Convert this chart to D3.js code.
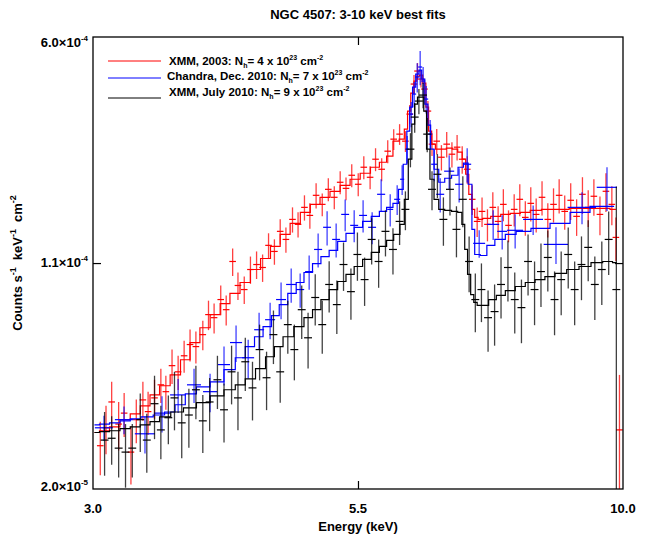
<!DOCTYPE html>
<html>
<head>
<meta charset="utf-8">
<script src="https://cdn.jsdelivr.net/npm/d3@7"></script>
<style>
  body { margin: 0; background: #fff; }
  text { font-family: "Liberation Sans", Arial, Helvetica, sans-serif; font-weight: bold; fill: #000; }
</style>
</head>
<body>
<svg id="chart"></svg>
<script>
// values are in units of 1e-5 counts s^-1 keV^-1 cm^-2, energies in keV
const UNIT = 1e-5;

const xDomain = [3, 10];
const yDomain = [2e-5, 6e-4];
const xTicks = [3.0, 5.477, 10.0];
const xTickLabels = ['3.0', '5.5', '10.0'];
const yTicks = [2.0e-5, 1.095e-4, 6.0e-4];
const yTickLabels = [['2.0', '-5'], ['1.1', '-4'], ['6.0', '-4']];

const seriesNames = ['XMM, 2003', 'Chandra, Dec. 2010', 'XMM, July 2010'];
const seriesNh = [4, 7, 9];
const seriesColors = ['#ff0000', '#0000ff', '#000000'];

// XMM 2003 - model (step) and data
const redModelE = [3.01, 3.08, 3.15, 3.23, 3.30, 3.38, 3.45, 3.53, 3.62, 3.70, 3.78, 3.87, 3.96, 4.05, 4.14, 4.24, 4.34, 4.44, 4.54, 4.64,
  4.75, 4.86, 4.97, 5.08, 5.20, 5.32, 5.44, 5.57, 5.70, 5.80, 5.89, 5.97, 6.06, 6.11, 6.15, 6.20, 6.24, 6.28, 6.32, 6.37,
  6.41, 6.45, 6.50, 6.56, 6.65, 6.74, 6.83, 6.91, 6.97, 7.02, 7.07, 7.12, 7.16, 7.23, 7.31, 7.50, 7.65, 7.83, 8.01, 8.19,
  8.43, 8.71, 8.99, 9.28, 9.58, 9.84];
const redModelV = [3.06, 3.10, 3.19, 3.37, 3.52, 3.74, 4.06, 4.35, 4.72, 5.29, 6.02, 6.73, 7.43, 8.07, 8.71, 9.46, 10.43, 11.33, 12.41, 13.58,
  14.76, 16.03, 17.03, 17.96, 18.79, 19.66, 20.57, 21.52, 22.52, 23.38, 24.47, 27.40, 27.82, 30.00, 34.36, 39.35, 43.08, 44.73, 45.07, 42.43,
  35.42, 29.55, 26.79, 25.80, 25.80, 26.00, 25.80, 25.22, 23.92, 21.36, 18.37, 16.40, 15.44, 15.21, 15.32, 15.56, 15.79, 15.91, 16.03, 16.28,
  16.40, 16.40, 16.52, 16.52, 16.52, 16.40];
const redDataE = [3.05, 3.09, 3.13, 3.18, 3.22, 3.27, 3.31, 3.36, 3.40, 3.45, 3.50, 3.54, 3.59, 3.64, 3.69, 3.74, 3.79, 3.85, 3.90, 3.95,
  4.01, 4.06, 4.12, 4.17, 4.23, 4.29, 4.35, 4.41, 4.47, 4.53, 4.59, 4.65, 4.72, 4.78, 4.85, 4.91, 4.98, 5.05, 5.12, 5.19,
  5.26, 5.33, 5.40, 5.48, 5.55, 5.63, 5.70, 5.78, 5.86, 5.94, 6.02, 6.10, 6.16, 6.22, 6.27, 6.32, 6.37, 6.42, 6.48, 6.55,
  6.62, 6.70, 6.78, 6.86, 6.94, 7.02, 7.10, 7.18, 7.26, 7.35, 7.44, 7.53, 7.62, 7.71, 7.81, 7.91, 8.01, 8.11, 8.21, 8.32,
  8.43, 8.54, 8.65, 8.76, 8.88, 9.00, 9.12, 9.24, 9.36, 9.49, 9.62, 9.75, 9.84, 9.92];
const redDataV = [2.77, 3.17, 3.85, 3.26, 3.54, 2.64, 3.37, 3.91, 3.58, 3.97, 4.38, 4.16, 5.06, 4.83, 5.45, 5.93, 5.84, 6.39, 7.43, 7.26,
  8.32, 7.71, 11.08, 9.25, 8.97, 10.43, 10.83, 10.59, 12.51, 11.95, 13.90, 13.08, 15.21, 14.65, 16.65, 15.67, 18.23, 17.03, 19.07, 17.96,
  20.11, 19.21, 21.20, 19.81, 22.52, 20.88, 23.92, 22.18, 25.41, 27.82, 28.89, 27.40, 33.59, 42.11, 46.44, 43.73, 40.55, 34.36, 26.79, 27.40,
  24.28, 26.79, 24.84, 26.19, 23.92, 22.18, 17.69, 14.98, 16.15, 14.65, 16.65, 14.98, 17.03, 14.54, 16.40, 17.69, 15.44, 17.16, 15.79, 17.96,
  15.21, 17.03, 18.23, 16.15, 17.56, 15.56, 18.37, 16.65, 18.10, 15.79, 18.79, 17.03, 13.28, 3.12];
const redDataErr = [0.55, 0.57, 0.63, 0.59, 0.58, 0.57, 0.55, 0.57, 0.58, 0.58, 0.56, 0.53, 0.65, 0.62, 0.65, 0.71, 0.70, 0.71, 0.82, 0.81,
  0.92, 0.86, 1.14, 0.95, 0.92, 1.07, 1.12, 1.09, 1.19, 1.14, 1.32, 1.24, 1.44, 1.39, 1.58, 1.49, 1.73, 1.46, 1.64, 1.54,
  1.73, 1.65, 1.82, 1.70, 1.94, 1.80, 2.06, 1.91, 2.19, 2.17, 2.25, 2.14, 2.35, 2.95, 2.88, 2.71, 2.84, 2.68, 2.30, 2.60,
  2.31, 2.55, 2.36, 2.49, 2.46, 2.28, 1.96, 1.66, 1.79, 1.76, 2.00, 1.80, 2.04, 1.74, 1.97, 2.12, 1.98, 2.20, 2.02, 2.30,
  1.95, 2.18, 2.33, 2.07, 2.41, 2.13, 2.52, 2.28, 2.48, 2.29, 2.72, 2.47, 2.16, 1.60];
const redBinFrac = 0.0075;

// Chandra Dec. 2010
const blueModelE = [3.01, 3.08, 3.15, 3.23, 3.30, 3.39, 3.49, 3.57, 3.66, 3.74, 3.85, 3.98, 4.10, 4.19, 4.29, 4.37, 4.46, 4.54, 4.62, 4.72,
  4.80, 4.89, 4.99, 5.08, 5.18, 5.28, 5.38, 5.48, 5.59, 5.70, 5.80, 5.89, 5.97, 6.04, 6.10, 6.14, 6.18, 6.22, 6.27, 6.31,
  6.35, 6.40, 6.44, 6.48, 6.54, 6.62, 6.72, 6.83, 6.92, 7.00, 7.07, 7.12, 7.16, 7.30, 7.38, 7.57, 7.74, 7.95, 8.28, 8.67,
  9.07, 9.49, 9.80];
const blueModelV = [3.24, 3.26, 3.29, 3.34, 3.39, 3.44, 3.49, 3.57, 3.77, 4.09, 4.31, 4.48, 4.91, 5.37, 5.84, 6.29, 6.79, 7.37, 8.01, 8.71,
  9.46, 10.20, 10.91, 11.50, 12.04, 12.89, 13.69, 14.33, 14.98, 15.56, 16.15, 16.65, 17.16, 19.07, 23.03, 29.55, 35.42, 41.16, 45.41, 46.79,
  43.73, 36.22, 30.92, 25.80, 22.18, 20.11, 20.73, 21.20, 22.52, 23.21, 19.81, 14.11, 11.68, 11.59, 12.51, 13.08, 13.58, 13.90, 14.22, 14.76,
  16.03, 16.78, 16.78];
const blueDataE = [3.076, 3.219, 3.376, 3.509, 3.640, 3.774, 3.914, 4.040, 4.152, 4.268, 4.375, 4.486, 4.599, 4.706, 4.803, 4.902,
  5.003, 5.106, 5.212, 5.320, 5.430, 5.541, 5.656, 5.773, 5.893, 5.987, 6.055, 6.125, 6.181, 6.223, 6.266, 6.308,
  6.351, 6.395, 6.453, 6.512, 6.602, 6.738, 6.892, 7.019, 7.213, 7.446, 7.600, 7.827, 8.154, 8.588, 9.111, 9.643];
const blueDataHalfWidth = [0.063, 0.066, 0.077, 0.064, 0.066, 0.060, 0.062, 0.055, 0.057, 0.058, 0.050, 0.051, 0.052, 0.054, 0.044, 0.045,
  0.046, 0.046, 0.047, 0.048, 0.049, 0.050, 0.051, 0.053, 0.040, 0.041, 0.028, 0.028, 0.028, 0.028, 0.029, 0.029,
  0.029, 0.029, 0.029, 0.044, 0.060, 0.077, 0.063, 0.064, 0.098, 0.102, 0.086, 0.142, 0.185, 0.237, 0.294, 0.222];
const blueDataV = [3.17, 3.37, 3.03, 3.54, 4.06, 4.38, 4.16, 5.10, 6.02, 5.37, 6.63, 7.15, 8.32, 9.32, 8.97, 10.27,
  12.13, 14.33, 13.08, 15.79, 14.54, 15.67, 14.33, 18.37, 16.40, 17.69, 20.57, 25.80, 33.59, 39.05, 44.40, 47.87,
  43.08, 37.61, 28.89, 23.03, 18.37, 21.86, 19.81, 23.03, 12.70, 14.65, 13.90, 14.01, 15.21, 12.60, 16.65, 19.36];
const blueDataErr = [0.30, 0.35, 0.42, 0.48, 0.52, 0.56, 0.60, 0.74, 0.82, 0.78, 0.91, 0.98, 1.14, 1.19, 1.15, 1.31,
  1.55, 1.83, 1.67, 1.89, 1.74, 1.88, 1.72, 2.20, 1.97, 1.96, 2.28, 2.66, 3.19, 3.71, 4.85, 6.13,
  4.78, 3.87, 3.21, 2.76, 2.35, 2.80, 2.54, 2.95, 1.31, 1.63, 1.78, 1.79, 1.69, 1.73, 2.00, 3.16];

// XMM July 2010
const blackModelE = [3.01, 3.08, 3.15, 3.23, 3.30, 3.38, 3.45, 3.53, 3.63, 3.74, 3.85, 3.98, 4.10, 4.19, 4.29, 4.39, 4.49, 4.57, 4.67, 4.80,
  4.89, 4.99, 5.08, 5.18, 5.28, 5.38, 5.48, 5.59, 5.70, 5.80, 5.89, 5.99, 6.06, 6.11, 6.17, 6.21, 6.25, 6.29, 6.34, 6.38,
  6.42, 6.48, 6.54, 6.62, 6.72, 6.83, 6.91, 6.96, 7.00, 7.05, 7.10, 7.15, 7.21, 7.31, 7.43, 7.57, 7.74, 7.92, 8.10, 8.28,
  8.47, 8.67, 8.93, 9.17, 9.43, 9.67, 9.86];
const blackModelV = [3.06, 3.08, 3.10, 3.15, 3.19, 3.24, 3.32, 3.44, 3.57, 3.68, 3.83, 4.03, 4.22, 4.38, 4.58, 4.95, 5.41, 5.84, 6.29, 6.79,
  7.26, 7.71, 8.32, 8.97, 9.53, 10.05, 10.67, 11.25, 11.86, 12.41, 12.99, 13.58, 14.65, 17.69, 23.92, 31.15, 36.22, 38.18, 38.18, 34.36,
  25.80, 20.57, 17.69, 16.40, 16.28, 16.15, 16.03, 14.65, 12.13, 10.05, 8.64, 8.14, 7.96, 7.96, 8.32, 8.58, 8.90, 9.18, 9.46, 9.67,
  9.89, 10.13, 10.43, 10.67, 10.99, 11.08, 10.99];
const blackDataE = [3.08, 3.13, 3.18, 3.23, 3.28, 3.34, 3.39, 3.45, 3.50, 3.56, 3.61, 3.67, 3.73, 3.79, 3.85, 3.91, 3.98, 4.04, 4.11, 4.17,
  4.24, 4.31, 4.38, 4.45, 4.52, 4.59, 4.67, 4.74, 4.82, 4.89, 4.97, 5.05, 5.13, 5.22, 5.30, 5.39, 5.47, 5.56, 5.65, 5.74,
  5.83, 5.93, 6.02, 6.10, 6.17, 6.23, 6.29, 6.35, 6.41, 6.48, 6.56, 6.65, 6.75, 6.85, 6.95, 7.05, 7.15, 7.25, 7.36, 7.47,
  7.58, 7.70, 7.82, 7.94, 8.06, 8.18, 8.30, 8.43, 8.56, 8.69, 8.83, 8.96, 9.10, 9.24, 9.38, 9.53, 9.68, 9.85];
const blackDataV = [2.89, 2.93, 2.72, 2.64, 2.72, 3.37, 2.89, 3.80, 3.12, 3.42, 3.97, 3.29, 3.49, 4.22, 3.34, 3.85, 4.55, 3.63, 4.83, 3.97,
  5.21, 4.28, 5.71, 4.62, 6.39, 4.83, 6.89, 5.71, 7.71, 6.24, 8.45, 6.89, 9.32, 8.01, 10.83, 8.83, 11.68, 9.67, 13.08, 11.08,
  13.90, 12.13, 14.98, 16.40, 25.80, 32.84, 37.05, 38.76, 28.89, 19.07, 21.36, 15.21, 19.07, 14.11, 17.69, 11.08, 8.32, 8.97, 7.26, 7.60,
  9.32, 10.59, 8.32, 7.83, 11.08, 8.97, 10.27, 11.42, 8.32, 9.67, 11.68, 8.97, 10.83, 12.32, 9.32, 10.43, 13.08, 8.97];
const blackDataErr = [0.68, 0.53, 0.54, 0.62, 0.54, 0.73, 0.63, 0.89, 0.62, 0.62, 0.86, 0.77, 0.76, 0.84, 0.72, 0.76, 0.90, 0.79, 1.05, 0.86,
  1.03, 0.93, 1.18, 1.00, 1.27, 1.00, 1.36, 1.18, 1.53, 1.29, 1.61, 1.36, 1.77, 1.59, 1.95, 1.68, 2.10, 1.74, 2.25, 1.99,
  2.39, 2.09, 2.44, 2.38, 3.30, 3.65, 3.52, 3.68, 3.70, 2.77, 3.50, 2.74, 3.40, 2.68, 3.36, 2.29, 1.81, 1.95, 1.64, 1.72,
  2.11, 2.39, 1.88, 1.84, 2.50, 2.11, 2.41, 2.58, 1.96, 2.27, 2.64, 2.11, 2.55, 2.78, 2.19, 2.45, 3.07, 10.5];
const blackBinFrac = 0.009;

const width = 647, height = 538;
const margin = {top: 37, right: 24, bottom: 49, left: 93};
const innerW = width - margin.left - margin.right;
const innerH = height - margin.top - margin.bottom;

const svg = d3.select('#chart').attr('width', width).attr('height', height);

const x = d3.scaleLog().domain(xDomain).range([0, innerW]);
const y = d3.scaleLog().domain(yDomain).range([innerH, 0]);

const g = svg.append('g').attr('transform', `translate(${margin.left},${margin.top})`);

g.append('defs').append('clipPath').attr('id', 'plot-clip')
  .append('rect').attr('width', innerW).attr('height', innerH);

const plot = g.append('g').attr('clip-path', 'url(#plot-clip)');

// build the three series
const series = [
  {model: redModelE.map((e, i) => [e, redModelV[i] * UNIT]),
   data: redDataE.map((e, i) => ({e, hw: e * redBinFrac, v: redDataV[i] * UNIT, err: redDataErr[i] * UNIT}))},
  {model: blueModelE.map((e, i) => [e, blueModelV[i] * UNIT]),
   data: blueDataE.map((e, i) => ({e, hw: blueDataHalfWidth[i], v: blueDataV[i] * UNIT, err: blueDataErr[i] * UNIT}))},
  {model: blackModelE.map((e, i) => [e, blackModelV[i] * UNIT]),
   data: blackDataE.map((e, i) => ({e, hw: e * blackBinFrac, v: blackDataV[i] * UNIT, err: blackDataErr[i] * UNIT}))}
];

const line = d3.line()
  .x(d => x(d[0]))
  .y(d => y(d[1]))
  .curve(d3.curveStep);

const floorV = yDomain[0] * 0.5;

series.forEach((s, k) => {
  const col = seriesColors[k];
  const grp = plot.append('g').attr('class', 'series-' + k);

  // vertical error bars
  grp.selectAll('line.ebar')
    .data(s.data)
    .join('line')
    .attr('class', 'ebar')
    .attr('x1', d => x(d.e))
    .attr('x2', d => x(d.e))
    .attr('y1', d => y(Math.max(d.v - d.err, floorV)))
    .attr('y2', d => y(d.v + d.err))
    .attr('stroke', col)
    .attr('stroke-width', 1.3)
    .attr('stroke-opacity', 0.75);

  // horizontal bin widths
  grp.selectAll('line.hbar')
    .data(s.data)
    .join('line')
    .attr('class', 'hbar')
    .attr('x1', d => x(d.e - d.hw))
    .attr('x2', d => x(d.e + d.hw))
    .attr('y1', d => y(d.v))
    .attr('y2', d => y(d.v))
    .attr('stroke', col)
    .attr('stroke-width', 1.2);

  // best-fit model
  grp.append('path')
    .datum(s.model)
    .attr('fill', 'none')
    .attr('stroke', col)
    .attr('stroke-width', 1.2)
    .attr('d', line);
});

// frame
g.append('rect')
  .attr('width', innerW)
  .attr('height', innerH)
  .attr('fill', 'none')
  .attr('stroke', '#000')
  .attr('stroke-width', 1.3);

// inward ticks on all four sides
const tickLen = 8;
const midX = [xTicks[1]];
const midY = [yTicks[1]];
g.append('g').attr('transform', `translate(0,${innerH})`)
  .call(d3.axisBottom(x).tickValues(midX).tickSize(-tickLen).tickFormat(''))
  .call(a => a.select('.domain').remove());
g.append('g')
  .call(d3.axisTop(x).tickValues(midX).tickSize(-tickLen).tickFormat(''))
  .call(a => a.select('.domain').remove());
g.append('g')
  .call(d3.axisLeft(y).tickValues(midY).tickSize(-tickLen).tickFormat(''))
  .call(a => a.select('.domain').remove());
g.append('g').attr('transform', `translate(${innerW},0)`)
  .call(d3.axisRight(y).tickValues(midY).tickSize(-tickLen).tickFormat(''))
  .call(a => a.select('.domain').remove());
g.selectAll('.tick line').attr('stroke', '#000').attr('stroke-width', 1.2);

// x tick labels
g.selectAll('text.xlab')
  .data(xTicks)
  .join('text')
  .attr('class', 'xlab')
  .attr('x', d => x(d))
  .attr('y', innerH + 24)
  .attr('text-anchor', 'middle')
  .attr('font-size', 13)
  .text((d, i) => xTickLabels[i]);

// y tick labels with exponent
yTicks.forEach((v, i) => {
  const yy = Math.min(Math.max(y(v) + 4, 10), innerH + 2);
  const t = g.append('text')
    .attr('x', -5)
    .attr('y', yy)
    .attr('text-anchor', 'end')
    .attr('font-size', 13);
  t.append('tspan').text(yTickLabels[i][0] + '\u00d710');
  t.append('tspan').attr('dy', -6).attr('font-size', 8).text(yTickLabels[i][1]);
});

// title and axis titles
svg.append('text')
  .attr('x', margin.left + innerW / 2)
  .attr('y', 19)
  .attr('text-anchor', 'middle')
  .attr('font-size', 13)
  .text('NGC 4507: 3-10 keV best fits');

svg.append('text')
  .attr('x', margin.left + innerW / 2)
  .attr('y', 531)
  .attr('text-anchor', 'middle')
  .attr('font-size', 13)
  .text('Energy (keV)');

const yTitle = svg.append('text')
  .attr('transform', `translate(22,${margin.top + innerH / 2}) rotate(-90)`)
  .attr('text-anchor', 'middle')
  .attr('font-size', 13);
yTitle.append('tspan').text('Counts s');
yTitle.append('tspan').attr('dy', -6).attr('font-size', 9).text('-1');
yTitle.append('tspan').attr('dy', 6).attr('dx', 7).text('keV');
yTitle.append('tspan').attr('dy', -6).attr('font-size', 9).text('-1');
yTitle.append('tspan').attr('dy', 6).attr('dx', 7).text('cm');
yTitle.append('tspan').attr('dy', -6).attr('font-size', 9).text('-2');

// legend
const legendLineY = [61, 78, 98];
const legendTextY = [65, 80, 96];
const legend = svg.append('g');
seriesNames.forEach((name, i) => {
  legend.append('line')
    .attr('x1', 108).attr('x2', 161)
    .attr('y1', legendLineY[i]).attr('y2', legendLineY[i])
    .attr('stroke', seriesColors[i])
    .attr('stroke-width', 1);
  const t = legend.append('text')
    .attr('x', i === 1 ? 167 : 169)
    .attr('y', legendTextY[i])
    .attr('font-size', 11.5);
  t.append('tspan').text(name + ': N');
  t.append('tspan').attr('dy', 3).attr('font-size', 7).text('h');
  t.append('tspan').attr('dy', -3).text('= ' + seriesNh[i] + ' x 10');
  t.append('tspan').attr('dy', -5).attr('font-size', 7).text('23');
  t.append('tspan').attr('dy', 5).text(' cm');
  t.append('tspan').attr('dy', -5).attr('font-size', 7).text('-2');
});
</script>
</body>
</html>
